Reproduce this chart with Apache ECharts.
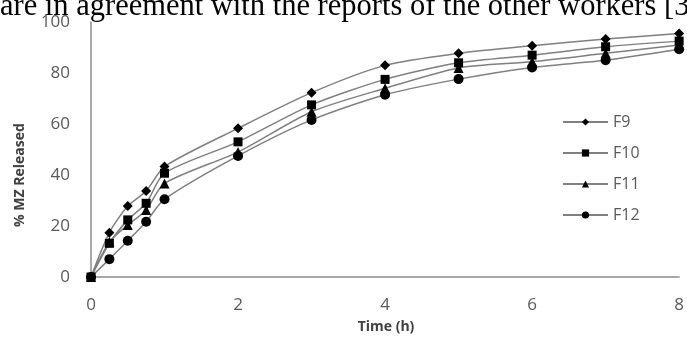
<!DOCTYPE html>
<html>
<head>
<meta charset="utf-8">
<script src="https://cdn.jsdelivr.net/npm/echarts@6/dist/echarts.min.js"></script>
<style>
  html, body { margin: 0; padding: 0; background: #fff; }
  #chart { width: 687px; height: 341px; }
</style>
</head>
<body>
<div id="chart"></div>
<script>
var timeH = [0, 0.25, 0.5, 0.75, 1, 2, 3, 4, 5, 6, 7, 8];
var F9  = [0, 17.4, 27.8, 33.7, 43.3, 58.3, 72.3, 83, 87.7, 90.7, 93.3, 95.5];
var F10 = [0, 13.2, 22.4, 28.9, 40.7, 53, 67.5, 77.5, 84, 87, 90.3, 92.5];
var F11 = [0, 13.8, 20.4, 26.3, 36.7, 49, 64.8, 74, 82, 84.4, 87.7, 91];
var F12 = [0, 7, 14.2, 21.7, 30.5, 47.5, 61.6, 71.5, 77.6, 82.2, 85, 89.3];
var seriesNames = ['F9', 'F10', 'F11', 'F12'];
var xTicks = [0, 2, 4, 6, 8];
var yTicks = [0, 20, 40, 60, 80, 100];
var topText = 'are in agreement with the reports of the other workers [3';

function pairs(vals) {
  return timeH.map(function (t, i) { return [t, vals[i]]; });
}

var symbols = ['diamond', 'rect', 'triangle', 'circle'];
var sizes = [[10, 10], 9, 10, 10];
var allVals = [F9, F10, F11, F12];

var chart = echarts.init(document.getElementById('chart'), null, { renderer: 'canvas' });
var option = {
  animation: false,
  backgroundColor: '#ffffff',
  grid: { left: 91, right: 7, top: 22, bottom: 64, containLabel: false },
  xAxis: {
    type: 'value', min: 0, max: 8, interval: 2,
    axisLine: { show: true, lineStyle: { color: '#8c8c8c', width: 1.5 } },
    axisTick: { show: false },
    splitLine: { show: false },
    axisLabel: { color: '#595959', fontSize: 17, fontFamily: 'Open Sans', margin: 20,
      formatter: function (v) { return xTicks.indexOf(v) >= 0 ? String(v) : ''; } }
  },
  yAxis: {
    type: 'value', min: 0, max: 100, interval: 20,
    axisLine: { show: true, lineStyle: { color: '#8c8c8c', width: 1.5 } },
    axisTick: { show: false },
    splitLine: { show: false },
    axisLabel: { color: '#595959', fontSize: 17, fontFamily: 'Open Sans', margin: 21,
      formatter: function (v) { return yTicks.indexOf(v) >= 0 ? String(v) : ''; } }
  },
  legend: {
    orient: 'vertical', left: 557, top: 108,
    itemWidth: 45, itemHeight: 9, itemGap: 13,
    textStyle: { color: '#595959', fontSize: 16, fontFamily: 'Open Sans', lineHeight: 18 },
    data: seriesNames
  },
  graphic: [
    { type: 'text', left: 0, top: -9, silent: true,
      style: { text: topText, fill: '#000', font: '30.5px "Liberation Serif"', lineHeight: 30 } },
    { type: 'text', x: 20, y: 175, rotation: Math.PI / 2, silent: true,
      style: { text: '% MZ Released', fill: '#404040', font: 'bold 14px "Open Sans"',
        align: 'center', verticalAlign: 'middle' } },
    { type: 'text', x: 386, y: 327, silent: true,
      style: { text: 'Time (h)', fill: '#404040', font: 'bold 14px "Open Sans"',
        align: 'center', verticalAlign: 'middle' } }
  ],
  series: seriesNames.map(function (n, i) {
    return {
      name: n, type: 'line', data: pairs(allVals[i]),
      smooth: 0.25,
      symbol: symbols[i], symbolSize: sizes[i], showSymbol: true,
      lineStyle: { color: '#7f7f7f', width: 1.5 },
      itemStyle: { color: '#000000', borderWidth: 0 },
      z: 2
    };
  })
};
chart.setOption(option);
</script>
</body>
</html>
